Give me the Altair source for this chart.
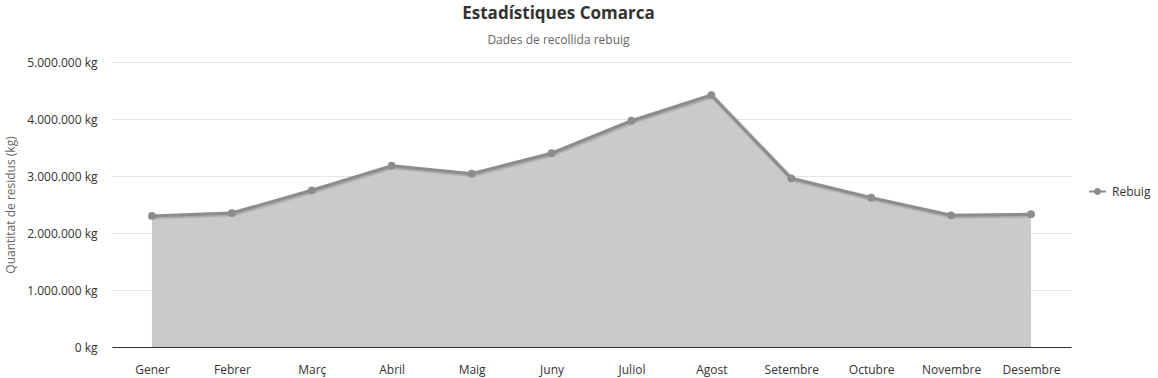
import altair as alt
import pandas as pd

months = ["Gener", "Febrer", "Març", "Abril", "Maig", "Juny", "Juliol",
          "Agost", "Setembre", "Octubre", "Novembre", "Desembre"]
rebuig = [2300000, 2350000, 2750000, 3180000, 3040000, 3400000, 3970000,
          4420000, 2960000, 2620000, 2310000, 2330000]
series_name = "Rebuig"
y_ticks = [0, 1000000, 2000000, 3000000, 4000000, 5000000]

df = pd.DataFrame({"mes": months, "valor": rebuig, "serie": [series_name] * len(months)})

FONT = "Open Sans"
LINE = "#8c8c8c"
FILL = "#cacaca"

x = alt.X("mes:N", sort=months,
          scale=alt.Scale(type="point", padding=0.5),
          axis=alt.Axis(title=None, labelAngle=0, labelFontSize=12, labelColor="#333333",
                        labelPadding=17, ticks=False, domainColor="#333333",
                        domainWidth=1, grid=False, labelFont=FONT))
y = alt.Y("valor:Q", scale=alt.Scale(domain=[0, 5000000], nice=False),
          axis=alt.Axis(title="Quantitat de residus (kg)", values=y_ticks,
                        labelExpr="replace(format(datum.value, ','), regexp(',', 'g'), '.') + ' kg'",
                        labelFontSize=12, labelColor="#333333", labelPadding=15,
                        ticks=False, domain=False, gridColor="#e6e6e6",
                        titleFontSize=12, titleFontWeight="normal", titleColor="#666666",
                        titlePadding=9, labelFont=FONT, titleFont=FONT))

base = alt.Chart(df)

area = base.mark_area(color=FILL, opacity=1).encode(x=x, y=y)

shadow1 = base.mark_line(color="black", strokeWidth=6, opacity=0.05, xOffset=1, yOffset=1).encode(x=x, y=y)
shadow2 = base.mark_line(color="black", strokeWidth=4, opacity=0.1, xOffset=1, yOffset=1).encode(x=x, y=y)

legend_path = ("M-1,-0.13 L1,-0.13 L1,0.13 L-1,0.13 Z "
               "M-0.42,0 A0.42,0.42 0 1,1 0.42,0 A0.42,0.42 0 1,1 -0.42,0 Z")

line = base.mark_line(strokeWidth=3).encode(
    x=x, y=y,
    color=alt.Color("serie:N", scale=alt.Scale(domain=[series_name], range=[LINE]),
                    legend=alt.Legend(title=None, orient="none", legendX=977, legendY=121,
                                      symbolType=legend_path, symbolSize=280,
                                      symbolStrokeWidth=0, symbolFillColor=LINE,
                                      labelFontSize=12, labelColor="#333333",
                                      labelFont=FONT, labelOffset=6)))

points = base.mark_circle(size=60, opacity=1, color=LINE).encode(x=x, y=y)

chart = alt.layer(area, shadow1, shadow2, line, points).properties(
    width=959, height=285,
    title=alt.TitleParams(text="Estadístiques Comarca", subtitle="Dades de recollida rebuig",
                          anchor="middle", dx=-33, offset=9,
                          fontSize=17, fontWeight="bold", color="#333333", font=FONT,
                          subtitleFontSize=12, subtitleColor="#666666", subtitleFont=FONT,
                          subtitlePadding=12),
    autosize=alt.AutoSizeParams(type="none"),
    padding={"left": 112, "top": 62, "right": 87, "bottom": 31},
).configure(background="white").configure_view(strokeWidth=0, stroke="transparent")

chart.save("out.html", embed_options={"renderer": "svg", "actions": False})
